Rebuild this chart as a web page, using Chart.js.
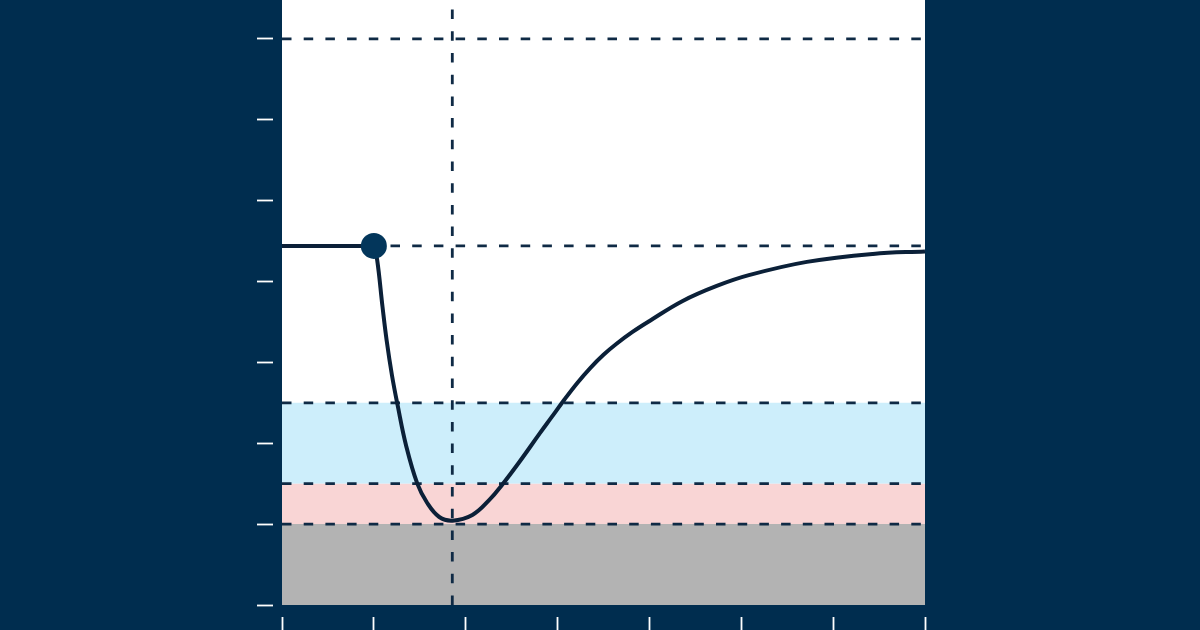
<!DOCTYPE html>
<html><head><meta charset="utf-8">
<script src="https://cdn.jsdelivr.net/npm/chart.js@4/dist/chart.umd.min.js"></script>
<style>html,body{margin:0;padding:0;background:#002d4f;overflow:hidden;}canvas{display:block;}</style>
</head><body>
<canvas id="c" width="1200" height="630"></canvas>
<script>
// ---- data ----
const xTicks = [0, 1, 2, 3, 4, 5, 6, 7];
const yTicks = [0, 1, 2, 3, 4, 5, 6, 7];
const xRange = [0, 7];
const yRange = [0, 7.48];
const baseline = 4.44;           // starting level / upper reference line
const dropX = 1.0;               // where the curve leaves the baseline (marker)
const nadirX = 1.854;            // vertical reference line
const topRef = 7;                // top reference line
const bandGrayTop = 1;
const bandPinkTop = 1.5;
const bandBlueTop = 2.5;
const curveX = [1.0, 1.036, 1.094, 1.139, 1.197, 1.257, 1.352, 1.472, 1.581, 1.712, 1.857, 2.072, 2.257, 2.399, 2.584, 2.802, 2.933, 3.075, 3.217, 3.358, 3.500, 3.642, 3.816, 4.002, 4.362, 4.733, 5.092, 5.714, 6.433, 7.0];
const curveY = [4.44, 4.267, 3.689, 3.274, 2.841, 2.480, 1.966, 1.504, 1.261, 1.088, 1.043, 1.113, 1.299, 1.490, 1.768, 2.115, 2.319, 2.541, 2.749, 2.933, 3.094, 3.230, 3.376, 3.512, 3.759, 3.945, 4.081, 4.242, 4.341, 4.372];

// ---- helpers ----
const hLine = v => [{x: xRange[0], y: v}, {x: xRange[1], y: v}];
const refStyle = {type: 'line', borderColor: '#0f2a45', borderWidth: 2.8, borderDash: [9.5, 12.2], pointRadius: 0, fill: false, order: 2};
const bandStyle = {type: 'line', borderWidth: 0, pointRadius: 0, order: 3};

const chartAreaBg = {
  id: 'chartAreaBg',
  beforeDraw(chart) {
    const {ctx, chartArea: a} = chart;
    ctx.save();
    ctx.fillStyle = '#ffffff';
    ctx.fillRect(a.left, a.top, a.right - a.left, a.bottom - a.top);
    ctx.restore();
  }
};

new Chart(document.getElementById('c'), {
  type: 'line',
  data: {
    datasets: [
      // bands
      Object.assign({}, bandStyle, {data: hLine(bandGrayTop), fill: 'origin', backgroundColor: '#b3b3b3'}),
      Object.assign({}, bandStyle, {data: hLine(bandPinkTop), fill: {value: bandGrayTop}, backgroundColor: '#f9d5d5'}),
      Object.assign({}, bandStyle, {data: hLine(bandBlueTop), fill: {value: bandPinkTop}, backgroundColor: '#cdeefb'}),
      // reference lines
      Object.assign({}, refStyle, {data: hLine(topRef)}),
      Object.assign({}, refStyle, {data: hLine(baseline)}),
      Object.assign({}, refStyle, {data: hLine(bandBlueTop)}),
      Object.assign({}, refStyle, {data: hLine(bandPinkTop)}),
      Object.assign({}, refStyle, {data: hLine(bandGrayTop)}),
      Object.assign({}, refStyle, {data: [{x: nadirX, y: yRange[0]}, {x: nadirX, y: yRange[1]}]}),
      // flat start
      {type: 'line', data: [{x: xRange[0], y: baseline}, {x: dropX, y: baseline}], borderColor: '#0b2038', borderWidth: 4, pointRadius: 0, fill: false, order: 1},
      // curve
      {type: 'line', data: curveX.map((x, i) => ({x, y: curveY[i]})), borderColor: '#0b2038', borderWidth: 4, pointRadius: 0, fill: false, tension: 0.4, order: 1},
      // marker
      {type: 'scatter', data: [{x: dropX, y: baseline}], pointRadius: 13, pointHoverRadius: 13, backgroundColor: '#03365b', borderWidth: 0, order: 0}
    ]
  },
  options: {
    responsive: false,
    animation: false,
    devicePixelRatio: 1,
    events: [],
    layout: {autoPadding: false, padding: {left: 257, right: 275, top: 0, bottom: 0}},
    plugins: {legend: {display: false}, tooltip: {enabled: false}},
    scales: {
      x: {
        type: 'linear', min: xRange[0], max: xRange[1],
        afterBuildTicks: s => { s.ticks = xTicks.map(v => ({value: v})); },
        afterFit: s => { s.height = 25; },
        ticks: {display: false},
        border: {display: false},
        grid: {drawOnChartArea: false, drawTicks: true, tickLength: 25, tickColor: '#ffffff', tickWidth: 1.8, tickBorderDash: [0, 12, 13, 60]}
      },
      y: {
        type: 'linear', min: yRange[0], max: yRange[1],
        afterBuildTicks: s => { s.ticks = yTicks.map(v => ({value: v})); },
        afterFit: s => { s.width = 25; },
        ticks: {display: false},
        border: {display: false},
        grid: {drawOnChartArea: false, drawTicks: true, tickLength: 25, tickColor: '#ffffff', tickWidth: 1.8, tickBorderDash: [16, 60]}
      }
    }
  },
  plugins: [chartAreaBg]
});
</script>
</body></html>
